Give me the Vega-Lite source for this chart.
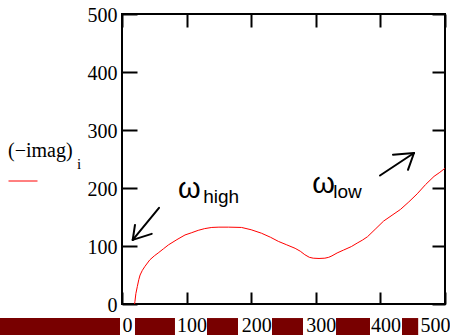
{
  "$schema": "https://vega.github.io/schema/vega-lite/v6.json",
  "width": 323,
  "height": 290,
  "autosize": {"type": "none"},
  "padding": {"left": 122, "top": 14, "right": 5, "bottom": 31},
  "background": "white",
  "config": {
    "view": {"stroke": "black", "strokeWidth": 2},
    "axis": {"grid": false, "domain": false, "title": null, "tickColor": "black", "tickWidth": 2, "labelFont": "Liberation Serif", "labelFontSize": 20, "labelColor": "black", "labelFlush": false, "labelOverlap": false, "labelBound": false}
  },
  "datasets": {
    "curve": [
      {"f": 19.5, "v": 0}, {"f": 20, "v": 4}, {"f": 21.5, "v": 18}, {"f": 23.7, "v": 30}, {"f": 26, "v": 42},
      {"f": 28, "v": 50}, {"f": 31.5, "v": 58}, {"f": 35.6, "v": 65}, {"f": 43, "v": 76}, {"f": 50, "v": 83},
      {"f": 56, "v": 88}, {"f": 64, "v": 95}, {"f": 72, "v": 102}, {"f": 85, "v": 111}, {"f": 97.5, "v": 119},
      {"f": 108, "v": 123}, {"f": 118, "v": 127}, {"f": 128, "v": 130}, {"f": 139, "v": 132}, {"f": 150, "v": 132.5},
      {"f": 165, "v": 132.5}, {"f": 185, "v": 132}, {"f": 200, "v": 128}, {"f": 216, "v": 122}, {"f": 230, "v": 115},
      {"f": 242, "v": 108}, {"f": 255, "v": 102}, {"f": 268, "v": 96}, {"f": 276, "v": 91}, {"f": 283, "v": 85},
      {"f": 290, "v": 80.5}, {"f": 296, "v": 79}, {"f": 305, "v": 78.5}, {"f": 314, "v": 79}, {"f": 320, "v": 80.5},
      {"f": 325, "v": 83}, {"f": 333, "v": 88}, {"f": 343, "v": 93}, {"f": 355, "v": 99}, {"f": 364, "v": 105},
      {"f": 372, "v": 110}, {"f": 380, "v": 116}, {"f": 393, "v": 130}, {"f": 405, "v": 143}, {"f": 418, "v": 153},
      {"f": 431, "v": 163}, {"f": 444, "v": 176}, {"f": 457, "v": 190}, {"f": 470, "v": 206}, {"f": 483, "v": 220},
      {"f": 492, "v": 227}, {"f": 500, "v": 234}
    ],
    "strip": [
      {"a": -189, "b": -3.1}, {"a": 20.1, "b": 82}, {"a": 131.6, "b": 179.6},
      {"a": 232.2, "b": 280.2}, {"a": 331.3, "b": 383.9}, {"a": 433.4, "b": 458.5}
    ],
    "omega": [
      {"x": 86.8, "y": 183, "t": "ω"}, {"x": 294.6, "y": 191.7, "t": "ω"}
    ],
    "subs": [
      {"x": 125.6, "y": 175, "t": "high"}, {"x": 327, "y": 183, "t": "low"}
    ],
    "ysub": [
      {"x": -69.5, "y": 232, "t": "i"}
    ],
    "arrows": [
      {"x": 57.3, "y": 165.8, "x2": 16.6, "y2": 110.5},
      {"x": 16.6, "y": 110.5, "x2": 20.1, "y2": 136.4},
      {"x": 16.6, "y": 110.5, "x2": 46, "y2": 120.9},
      {"x": 399.4, "y": 221.6, "x2": 452, "y2": 260.3},
      {"x": 452, "y": 260.3, "x2": 419.5, "y2": 257.3},
      {"x": 452, "y": 260.3, "x2": 442.7, "y2": 231.4}
    ]
  },
  "resolve": {"axis": {"x": "independent", "y": "independent"}},
  "layer": [
    {
      "data": {"name": "strip"},
      "mark": {"type": "rect", "color": "#780000"},
      "encoding": {
        "x": {"field": "a", "type": "quantitative", "scale": {"domain": [0, 500], "nice": false}, "axis": null},
        "x2": {"field": "b"},
        "y": {"datum": -24.2, "type": "quantitative", "scale": {"domain": [0, 500], "nice": false}, "axis": null},
        "y2": {"datum": -60}
      }
    },
    {
      "data": {"name": "curve"},
      "mark": {"type": "line", "strokeWidth": 1},
      "encoding": {
        "x": {"field": "f", "type": "quantitative", "scale": {"domain": [0, 500], "nice": false},
              "axis": {"orient": "bottom", "values": [0, 100, 200, 300, 400, 500], "tickSize": -12, "labelPadding": 23, "labelOffset": 5,
                       "labelAlign": {"condition": {"test": "datum.value == 500", "value": "right"}, "value": "center"}}},
        "y": {"field": "v", "type": "quantitative", "scale": {"domain": [0, 500], "nice": false},
              "axis": {"orient": "left", "values": [0, 100, 200, 300, 400, 500], "tickSize": -15, "labelPadding": 20, "labelOffset": 1}},
        "color": {"datum": "(-imag)i", "type": "nominal", "scale": {"range": ["#ff0000"]},
                  "legend": {"orient": "none", "legendX": -114, "legendY": 127, "title": "(−imag)", "titleFont": "Liberation Serif", "titleFontSize": 20, "titleFontWeight": "normal", "titleColor": "black", "titlePadding": 5, "titleLimit": 0, "symbolType": "stroke", "symbolSize": 841, "symbolStrokeWidth": 1, "labelExpr": "''", "labelFontSize": 1, "padding": 0}}
      }
    },
    {
      "data": {"name": "ysub"},
      "mark": {"type": "text", "font": "Liberation Serif", "fontSize": 15, "align": "left", "baseline": "alphabetic", "color": "black"},
      "encoding": {
        "x": {"field": "x", "type": "quantitative", "axis": null},
        "y": {"field": "y", "type": "quantitative", "axis": null},
        "text": {"field": "t"}
      }
    },
    {
      "data": {"name": "omega"},
      "mark": {"type": "text", "font": "Liberation Sans", "fontSize": 29, "align": "left", "baseline": "alphabetic", "color": "black"},
      "encoding": {
        "x": {"field": "x", "type": "quantitative", "axis": null},
        "y": {"field": "y", "type": "quantitative", "axis": null},
        "text": {"field": "t"}
      }
    },
    {
      "data": {"name": "subs"},
      "mark": {"type": "text", "font": "Liberation Sans", "fontSize": 19, "align": "left", "baseline": "alphabetic", "color": "black"},
      "encoding": {
        "x": {"field": "x", "type": "quantitative", "axis": null},
        "y": {"field": "y", "type": "quantitative", "axis": null},
        "text": {"field": "t"}
      }
    },
    {
      "data": {"name": "arrows"},
      "mark": {"type": "rule", "strokeWidth": 2, "color": "black", "strokeCap": "round"},
      "encoding": {
        "x": {"field": "x", "type": "quantitative",
              "axis": {"orient": "top", "values": [0, 100, 200, 300, 400, 500], "labels": false, "tickSize": -13}},
        "y": {"field": "y", "type": "quantitative",
              "axis": {"orient": "right", "values": [0, 100, 200, 300, 400, 500], "labels": false, "tickSize": -13}},
        "x2": {"field": "x2"},
        "y2": {"field": "y2"}
      }
    }
  ]
}
